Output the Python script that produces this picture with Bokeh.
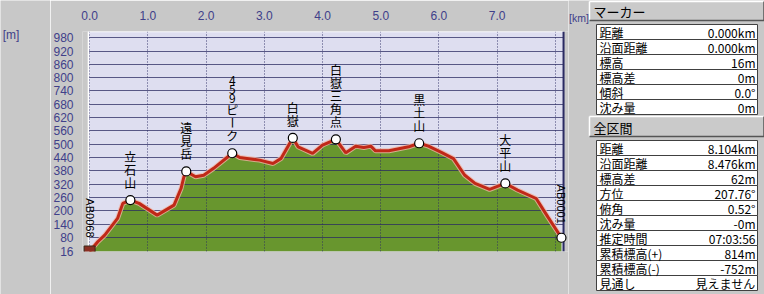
import math
from bokeh.plotting import figure
from bokeh.models import ColumnDataSource, FixedTicker, Range1d, NumeralTickFormatter
from bokeh.layouts import row
from bokeh.embed import file_html
from bokeh.resources import INLINE
from bokeh.core.properties import value

# ---------------- data ----------------
dist_km = [0.00, 0.14, 0.26, 0.48, 0.57, 0.70, 0.85, 1.16, 1.45, 1.57, 1.62, 1.66, 1.82, 1.96,
           2.13, 2.45, 2.58, 2.92, 3.15, 3.29, 3.49, 3.58, 3.83, 4.00, 4.23, 4.40, 4.57, 4.71,
           4.83, 4.91, 5.14, 5.48, 5.66, 5.82, 6.05, 6.25, 6.44, 6.62, 6.87, 7.14, 7.35, 7.67,
           7.87, 8.104]
elev_m = [16, 60, 90, 165, 233, 248, 233, 180, 225, 300, 353, 377, 353, 360,
          391, 459, 440, 428, 413, 436, 528, 488, 458, 496, 522, 461, 491, 485,
          491, 470, 470, 488, 504, 491, 462, 435, 361, 323, 296, 323, 293, 255,
          172, 78]

peak_names = ["立石山", "遠見岳", "459ピーク", "白嶽", "白嶽三角点", "黒土山", "大平山"]
peak_km = [0.70, 1.66, 2.45, 3.49, 4.23, 5.66, 7.14]
peak_m = [248, 377, 459, 528, 522, 504, 323]

end_names = ["AB0068", "AB0001"]
end_km = [0.0, 8.104]
end_m = [16, 78]

x_ticks = [0, 1, 2, 3, 4, 5, 6, 7]
x_grid = [0, 1, 2, 3, 4, 5, 6, 7, 8]
y_ticks = [16, 80, 140, 200, 260, 320, 380, 440, 500, 560, 620, 680, 740, 800, 860, 920, 980]
y_grid = y_ticks[1:]

marker_labels = ["距離", "沿面距離", "標高", "標高差", "傾斜", "沈み量"]
marker_values = ["0.000km", "0.000km", "16m", "0m", "0.0°", "0m"]
section_labels = ["距離", "沿面距離", "標高差", "方位", "俯角", "沈み量", "推定時間",
                  "累積標高(+)", "累積標高(-)", "見通し"]
section_values = ["8.104km", "8.476km", "62m", "207.76°", "0.52°", "-0m", "07:03:56",
                  "814m", "-752m", "見えません"]

# ---------------- style ----------------
BG = "#c8c8c8"
PLOT_BG = "#dedef0"
GREEN = "#68962e"
RED = "#c02818"
NAVY = "#2a2a62"
TICK_COLOR = "#40408a"
JP = "Noto Sans CJK JP"

# chart area in data units, plus a small pad so edge labels are not clipped
X0, X1, Y0, Y1 = -0.02, 8.14, 16, 1008
PX_PER_KM = 58.76
PAD_L, PAD_R = 6 / PX_PER_KM, 5 / PX_PER_KM


def no_align(fig):
    try:
        fig.frame_align = False
    except AttributeError:
        pass


# left strip carrying the elevation unit
s = figure(width=50, height=294, output_backend="svg", toolbar_location=None,
           x_range=Range1d(0, 50), y_range=Range1d(294, 0),
           x_axis_location=None, y_axis_location=None, min_border=0,
           background_fill_color=BG, border_fill_color=BG, outline_line_color=None)
s.grid.visible = False
s.text(x=[10.5], y=[34], text=["[m]"], text_align="center", text_baseline="middle",
       text_font=value("Liberation Sans"), text_font_size="12px", text_color=TICK_COLOR)

p = figure(width=518, height=294, output_backend="svg", toolbar_location=None,
           x_range=Range1d(X0 - PAD_L, X1 + PAD_R), y_range=Range1d(Y0, Y1),
           x_axis_location="above",
           min_border_left=28, min_border_right=0, min_border_top=31, min_border_bottom=43,
           background_fill_color=BG, border_fill_color=BG, outline_line_color=None)

p.xaxis.ticker = FixedTicker(ticks=x_ticks)
p.xaxis.formatter = NumeralTickFormatter(format="0.0")
p.yaxis.ticker = FixedTicker(ticks=y_ticks)
for ax in (p.xaxis[0], p.yaxis[0]):
    ax.axis_line_color = None
    ax.major_tick_line_color = None
    ax.minor_tick_line_color = None
    ax.major_label_text_font = "Liberation Sans"
    ax.major_label_text_font_size = "12px"
    ax.major_label_text_color = TICK_COLOR
p.xaxis.major_label_standoff = 6
p.yaxis.major_label_standoff = 3

p.xgrid.ticker = FixedTicker(ticks=x_grid)
p.xgrid.grid_line_color = NAVY
p.xgrid.grid_line_dash = "1 2"
p.xgrid.grid_line_alpha = 0.9
p.ygrid.ticker = FixedTicker(ticks=y_grid)
p.ygrid.grid_line_color = NAVY
p.ygrid.grid_line_alpha = 0.75
try:
    p.ygrid.cross_bounds = (X0, X1)
    p.xgrid.cross_bounds = (Y0, Y1)
except AttributeError:
    pass

# plotting area background and its border
p.quad(left=[X0], right=[X1], bottom=[Y0], top=[Y1], fill_color=PLOT_BG, line_color=None, level="image")
p.segment(x0=[X0, X0], y0=[Y1, Y0], x1=[X1, X0], y1=[Y1, Y1], line_color="white", line_width=1.5)
p.segment(x0=[X1], y0=[Y0], x1=[X1], y1=[Y1], line_color=NAVY, line_width=2)

src = ColumnDataSource(dict(x=dist_km, y=elev_m))
p.varea(x="x", y1=Y0, y2="y", source=src, fill_color=GREEN, level="image")
p.line(x="x", y="y", source=src, line_color="#f0b4a4", line_width=5, line_alpha=0.8)
p.line(x="x", y="y", source=src, line_color=RED, line_width=3)

p.scatter(x=peak_km + [end_km[1]], y=peak_m + [end_m[1]], size=9,
          fill_color="white", line_color="black", line_width=1.2)
# walker icon stand-in at the start
p.scatter(x=[end_km[0]], y=[end_m[0]], size=11, marker="square",
          fill_color="#8b2e22", line_color="#3a2a1a")

# vertical (tategaki) peak names
cx, cy, ct, coff, cang = [], [], [], [], []
for name, km, m in zip(peak_names, peak_km, peak_m):
    off = -11.0
    for ch in reversed(name):
        h = 9 if ord(ch) < 0x2000 else 13
        off -= h / 2
        cx.append(km); cy.append(m); ct.append(ch); coff.append(off)
        cang.append(-math.pi / 2 if ch == "ー" else 0.0)
        off -= h / 2
csrc = ColumnDataSource(dict(x=cx, y=cy, t=ct, off=coff, ang=cang))
p.text(x="x", y="y", text="t", y_offset="off", angle="ang", source=csrc,
       text_align="center", text_baseline="middle", text_font=value(JP),
       text_font_size="12px", text_color="black")

p.text(x=end_km, y=end_m, text=end_names, angle=-math.pi / 2, y_offset=-14,
       text_align="right", text_baseline="middle", text_font=value("Liberation Sans"),
       text_font_size="11px", text_color="black")

# ---------------- info panel (page x 568..764) ----------------
q = figure(width=196, height=294, output_backend="svg", toolbar_location=None,
           x_range=Range1d(0, 196), y_range=Range1d(294, 0),
           x_axis_location=None, y_axis_location=None, min_border=0,
           background_fill_color=BG, border_fill_color=BG, outline_line_color=None)
q.grid.visible = False


def header(top, bottom, title):
    q.quad(left=[21], right=[196], top=[top], bottom=[bottom], fill_color="#cacaca", line_color=None)
    q.segment(x0=[21, 21], y0=[top, top], x1=[196, 21], y1=[top, bottom], line_color="white", line_width=1.5)
    q.segment(x0=[21, 195.5], y0=[bottom, top], x1=[196, 195.5], y1=[bottom, bottom],
              line_color="#555555", line_width=1.5)
    q.text(x=[25], y=[(top + bottom) / 2 + 0.5], text=[title], text_align="left", text_baseline="middle",
           text_font=value(JP), text_font_size="13px", text_color="black")


def rows(top0, labels, values):
    n = len(labels)
    tops = [top0 + 15 * i for i in range(n)]
    bots = [t + 15 for t in tops]
    mids = [t + 7.5 for t in tops]
    q.quad(left=[28] * n, right=[189] * n, top=tops, bottom=bots,
           fill_color="white", line_color="#404040", line_width=1)
    q.text(x=[31] * n, y=mids, text=labels, text_align="left", text_baseline="middle",
           text_font=value(JP), text_font_size="12px", text_color="black")
    q.text(x=[187] * n, y=mids, text=values, text_align="right", text_baseline="middle",
           text_font=value(JP), text_font_size="12px", text_color="black")


header(1, 20, "マーカー")
rows(24, marker_labels, marker_values)
header(116, 136, "全区間")
rows(140, section_labels, section_values)

q.text(x=[0.5], y=[17.5], text=["[km]"], text_align="left", text_baseline="middle",
       text_font=value("Liberation Sans"), text_font_size="10.5px", text_color=TICK_COLOR)

for fig in (s, p, q):
    no_align(fig)

layout = row(s, p, q)
open("out.html", "w").write(file_html(layout, INLINE))
